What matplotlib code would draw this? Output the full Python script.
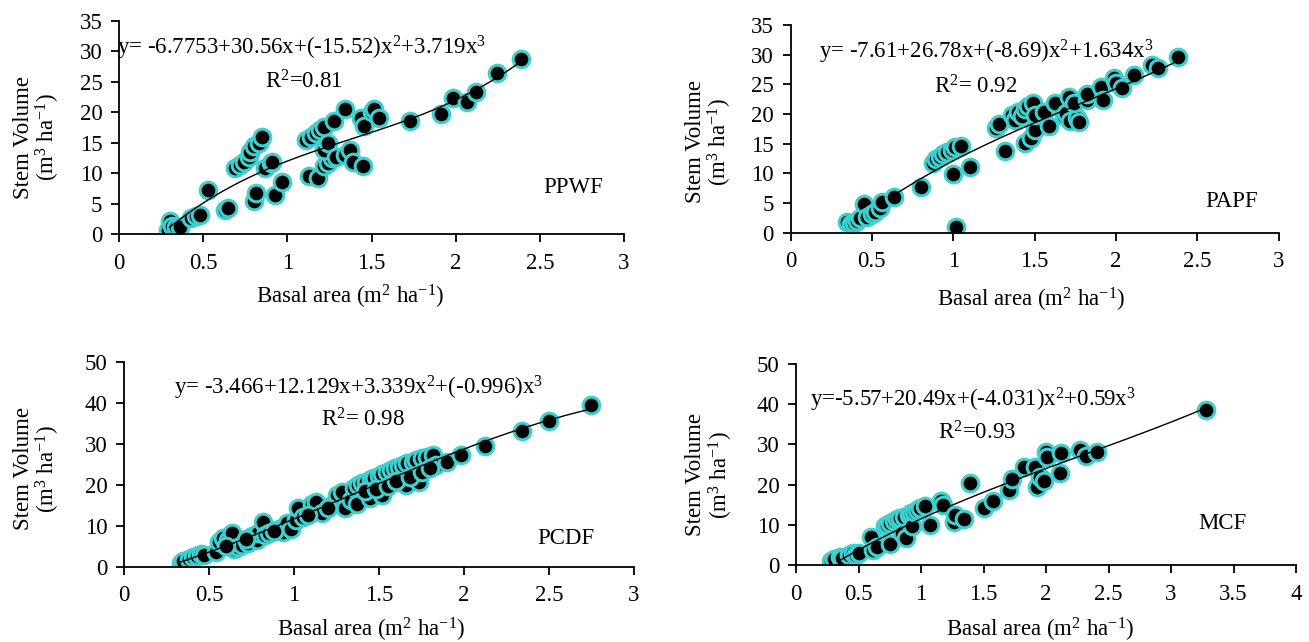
import numpy as np
import matplotlib
matplotlib.use("Agg")
import matplotlib.pyplot as plt

plt.rcParams['font.family'] = ['Liberation Serif', 'DejaVu Serif']
plt.rcParams['mathtext.fontset'] = 'custom'
plt.rcParams['mathtext.rm'] = 'Liberation Serif'
plt.rcParams['mathtext.it'] = 'Liberation Serif:italic'
plt.rcParams['mathtext.bf'] = 'Liberation Serif:bold'

# ---------------- data ----------------
ppwf_x = [0.29, 0.30, 0.317, 0.34, 0.36, 0.43, 0.46, 0.48, 0.53, 0.63, 0.645,
          0.69, 0.72, 0.74, 0.77, 0.78, 0.80, 0.83, 0.85, 0.80, 0.815, 0.87,
          0.90, 0.91, 0.925, 0.97, 1.11, 1.14, 1.17, 1.195, 1.22, 1.28, 1.34,
          1.13, 1.18, 1.22, 1.24, 1.265, 1.22, 1.24, 1.29, 1.34, 1.375, 1.39,
          1.45, 1.44, 1.455, 1.50, 1.515, 1.545, 1.73, 1.91, 1.985, 2.065,
          2.12, 2.245, 2.39]
ppwf_y = [0.7, 2.1, 1.3, 1.1, 1.2, 2.6, 2.9, 3.2, 7.3, 3.9, 4.3,
          10.8, 11.4, 11.9, 12.7, 13.5, 14.4, 15.0, 15.9, 5.4, 6.7, 10.8,
          11.6, 11.9, 6.4, 8.6, 15.5, 16.0, 16.6, 17.1, 17.6, 18.5, 20.6,
          9.5, 9.2, 11.1, 11.6, 12.5, 13.8, 14.9, 12.7, 13.0, 13.8, 11.9,
          11.1, 19.0, 17.7, 20.1, 20.5, 19.0, 18.6, 19.7, 22.4, 21.7,
          23.4, 26.5, 28.7]

papf_x = [0.345, 0.37, 0.39, 0.41, 0.43, 0.45, 0.47, 0.50, 0.52, 0.55, 0.56,
          0.635, 0.80, 0.875, 0.895, 0.92, 0.94, 0.96, 0.99, 1.01, 1.05, 1.0,
          1.105, 1.02, 1.26, 1.28, 1.32, 1.36, 1.38, 1.40, 1.42, 1.44, 1.46,
          1.49, 1.44, 1.475, 1.505, 1.505, 1.555, 1.59, 1.625, 1.68, 1.695,
          1.71, 1.72, 1.76, 1.77, 1.745, 1.82, 1.82, 1.91, 1.92, 1.985, 2.0,
          2.035, 2.11, 2.22, 2.26, 2.38]
papf_y = [1.85, 1.46, 1.7, 2.0, 2.4, 4.9, 2.7, 3.1, 3.5, 4.1, 5.1,
          6.1, 7.75, 11.8, 12.4, 12.8, 13.2, 13.65, 14.0, 14.5, 14.6, 9.9,
          11.1, 1.0, 17.6, 18.3, 13.8, 19.8, 19.0, 20.4, 19.6, 20.8, 21.4,
          21.9, 15.1, 15.9, 17.3, 19.8, 20.4, 17.9, 21.8, 19.6, 20.1,
          22.8, 18.9, 19.3, 18.7, 21.8, 22.4, 23.3, 24.5, 22.4, 26.0, 25.3,
          24.3, 26.6, 28.3, 27.7, 29.6]

pcdf_x = [0.333, 0.35, 0.38, 0.405, 0.43, 0.455, 0.47, 0.54, 0.56, 0.585, 0.61,
          0.635, 0.647, 0.67, 0.695, 0.73, 0.755, 0.78, 0.79, 0.815, 0.83, 0.85,
          0.91, 0.935, 0.96, 0.985, 1.01, 1.025, 1.055, 1.095, 1.105, 1.13,
          1.165, 1.225, 1.25, 1.28, 1.30, 1.335, 1.35, 1.375, 1.37, 1.40, 1.425,
          1.445, 1.45, 1.47, 1.50, 1.515, 1.52, 1.545, 1.57, 1.575, 1.595, 1.62,
          1.64, 1.66, 1.665, 1.70, 1.72, 1.735, 1.755, 1.785, 1.815, 1.835,
          1.90, 1.98, 2.125, 2.34, 2.50, 2.745,
          1.42, 1.48, 1.55, 1.60, 1.68, 1.75, 1.80, 1.20, 1.08, 0.88, 0.72, 0.60]
pcdf_y = [1.0, 1.5, 1.8, 2.3, 2.6, 3.1, 2.8, 3.7, 6.1, 6.9, 6.5,
          8.1, 4.2, 4.9, 5.3, 5.9, 7.5, 6.5, 8.1, 11.0, 7.7, 8.1,
          9.3, 8.5, 10.6, 9.3, 11.4, 14.2, 12.2, 13.0, 15.4, 15.9,
          13.0, 15.0, 17.5, 18.3, 14.2, 16.3, 19.1, 19.9, 15.4, 20.3, 20.7,
          16.7, 21.3, 21.7, 22.1, 17.5, 22.6, 23.2, 23.6, 20.3, 24.0, 24.4,
          24.8, 19.9, 25.2, 25.6, 26.0, 20.7, 26.4, 26.8, 27.2, 24.8,
          25.6, 27.2, 29.4, 33.2, 35.6, 39.4,
          18.5, 19.0, 19.8, 21.0, 22.0, 23.0, 24.0, 14.4, 12.5, 8.8, 6.8, 5.0]

mcf_x = [0.283, 0.305, 0.355, 0.37, 0.42, 0.453, 0.48, 0.50, 0.60, 0.617, 0.65,
         0.71, 0.73, 0.75, 0.755, 0.78, 0.81, 0.83, 0.85, 0.86, 0.88, 0.90,
         0.92, 0.93, 0.945, 0.97, 0.995, 1.03, 1.07, 1.16, 1.175, 1.26, 1.275,
         1.34, 1.395, 1.505, 1.575, 1.70, 1.73, 1.825, 1.915, 1.925, 1.95,
         1.98, 2.0, 2.01, 2.11, 2.12, 2.27, 2.32, 2.41, 3.28]
mcf_y = [1.1, 1.4, 1.9, 1.7, 2.5, 2.9, 2.5, 2.9, 6.9, 3.7, 4.6,
         9.6, 10.0, 5.2, 10.5, 11.0, 11.4, 11.6, 7.9, 12.0, 6.6, 12.5,
         12.9, 9.6, 13.3, 13.7, 14.1, 14.7, 10.0, 15.8, 15.0, 10.8, 12.5,
         11.4, 20.3, 14.1, 16.0, 18.7, 21.3, 24.5, 24.5, 19.5, 22.0,
         20.8, 28.2, 26.8, 23.0, 27.8, 28.7, 27.2, 28.1, 38.6]

# fitted cubic coefficients shown on the chart (highest power first)
ppwf_coef = [3.719, -15.52, 30.56, -6.7753]
papf_coef = [1.634, -8.69, 26.78, -7.61]
mcf_coef = [0.59, -4.031, 20.49, -5.57]

names = ["PPWF", "PAPF", "PCDF", "MCF"]
equations = [r"y= -6.7753+30.56x+(-15.52)x$^{2}$+3.719x$^{3}$",
             r"y= -7.61+26.78x+(-8.69)x$^{2}$+1.634x$^{3}$",
             r"y= -3.466+12.129x+3.339x$^{2}$+(-0.996)x$^{3}$",
             r"y=-5.57+20.49x+(-4.031)x$^{2}$+0.59x$^{3}$"]
r2_texts = [r"R$^{2}$=0.81", r"R$^{2}$= 0.92", r"R$^{2}$= 0.98", r"R$^{2}$=0.93"]

# ---------------- figure ----------------
fig = plt.figure(figsize=(13.09, 6.42), dpi=100)
W, H = 1309, 642

def add_axes(l, r, t, b):
    return fig.add_axes([l / W, 1 - b / H, (r - l) / W, (b - t) / H])

axes = [add_axes(119, 624, 21, 234),
        add_axes(790.5, 1278.7, 25, 232.7),
        add_axes(124, 634, 361.7, 566.7),
        add_axes(796, 1296, 364, 565)]

datasets = [(ppwf_x, ppwf_y), (papf_x, papf_y), (pcdf_x, pcdf_y), (mcf_x, mcf_y)]
coefs = [ppwf_coef, papf_coef, None, mcf_coef]
xlims = [(0, 3), (0, 3), (0, 3), (0, 4)]
ylims = [(0, 35), (0, 35), (0, 50), (0, 50)]
ysteps = [5, 5, 10, 10]
xsteps = [0.5, 0.5, 0.5, 0.5]
line_start = [0.3, 0.63, 0.333, 0.355]

eq_pos = [(-0.01, 30.5), (0.175, 30.4), (0.295, 43.6), (0.11, 41.0)]
r2_pos = [(0.87, 25.0), (0.88, 24.5), (1.16, 35.8), (1.14, 32.8)]
name_pos = [(2.52, 7.7), (2.55, 5.2), (2.43, 7.0), (3.22, 10.4)]
ylab_pos = [(-0.161, 0.455), (-0.166, 0.437), (-0.17, 0.477), (-0.172, 0.448)]
xlab_pos = [(0.457, -0.296), (0.493, -0.324), (0.484, -0.309), (0.488, -0.323)]

edge = "#3ECFCF"
FS = 16.5

for i, ax in enumerate(axes):
    x = np.array(datasets[i][0])
    y = np.array(datasets[i][1])
    c = coefs[i]
    if c is None:
        c = np.polyfit(x, y, 3)
    xx = np.linspace(line_start[i], x.max(), 200)
    ax.plot(xx, np.polyval(c, xx), color="black", lw=1.0, zorder=3)
    ax.plot(x, y, linestyle="none", marker="o", markersize=12,
            markerfacecolor="black", markeredgecolor=edge, markeredgewidth=2.2,
            zorder=2)

    ax.set_xlim(*xlims[i])
    ax.set_ylim(*ylims[i])
    ax.set_xticks(np.arange(xlims[i][0], xlims[i][1] + 1e-9, xsteps[i]))
    ax.set_yticks(np.arange(ylims[i][0], ylims[i][1] + 1e-9, ysteps[i]))
    ax.set_xticklabels([("%g" % v) for v in ax.get_xticks()])
    ax.spines["top"].set_visible(False)
    ax.spines["right"].set_visible(False)
    for s in ("left", "bottom"):
        ax.spines[s].set_linewidth(1.3)
    ax.tick_params(axis="both", direction="out", width=1.3, labelsize=FS)
    ax.tick_params(axis="y", length=6, pad=6)
    ax.tick_params(axis="x", length=5.5, pad=8)

    ax.text(*eq_pos[i], equations[i], fontsize=FS, ha="left", va="center", zorder=4)
    ax.text(*r2_pos[i], r2_texts[i], fontsize=FS, ha="left", va="center", zorder=4)
    ax.text(*name_pos[i], names[i], fontsize=FS, ha="left", va="center", zorder=4)

    ax.set_ylabel("Stem Volume\n(m$^{3}$ ha$^{-1}$)", fontsize=FS, linespacing=1.0)
    ax.yaxis.set_label_coords(*ylab_pos[i])
    ax.yaxis.label.set_va("center")
    ax.set_xlabel("Basal area (m$^{2}$ ha$^{-1}$)", fontsize=FS)
    ax.xaxis.set_label_coords(*xlab_pos[i])
    ax.xaxis.label.set_va("center")

fig.savefig("out.png", dpi=100)
